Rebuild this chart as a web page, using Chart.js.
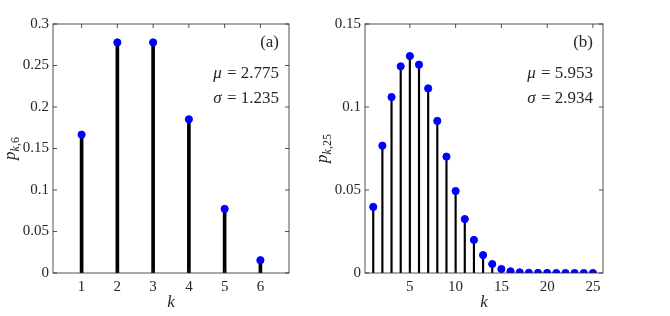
<!DOCTYPE html>
<html>
<head>
<meta charset="utf-8">
<script src="https://cdn.jsdelivr.net/npm/chart.js@4"></script>
<style>
    body { margin: 0; background: #fff; }
    #wrap { position: relative; width: 670px; height: 316px; }
    #left { position: absolute; left: 0; top: 0; width: 300px; height: 316px; }
    #right { position: absolute; left: 300px; top: 0; width: 370px; height: 316px; }
</style>
</head>
<body>
<div id="wrap">
    <div id="left"><canvas id="chartA"></canvas></div>
    <div id="right"><canvas id="chartB"></canvas></div>
</div>
<script>
// panel (a): n = 6
const kA = [1, 2, 3, 4, 5, 6];
const pA = [0.1667, 0.2778, 0.2778, 0.1852, 0.0772, 0.0154];
const xTicksA = [1, 2, 3, 4, 5, 6];
const yTicksA = [0, 0.05, 0.1, 0.15, 0.2, 0.25, 0.3];

// panel (b): n = 25
const kB = [1, 2, 3, 4, 5, 6, 7, 8, 9, 10, 11, 12, 13, 14, 15, 16, 17, 18, 19, 20, 21, 22, 23, 24, 25];
const pB = [0.0398, 0.0767, 0.1060, 0.1245, 0.1307, 0.1255, 0.1112, 0.0916, 0.0701, 0.0494,
            0.0325, 0.0199, 0.0108, 0.0054, 0.0024, 0.0010, 0.0004, 0.00015, 0.00005, 0.00002,
            0, 0, 0, 0, 0];
const xTicksB = [5, 10, 15, 20, 25];
const yTicksB = [0, 0.05, 0.1, 0.15];

const SERIF = "'Liberation Serif', 'DejaVu Serif', serif";

// box with inward ticks, axis label and annotations
const framePlugin = {
    id: "frame",
    afterDraw(chart, args, o) {
        const ctx = chart.ctx;
        const a = chart.chartArea;
        const xs = chart.scales.x, ys = chart.scales.y;
        ctx.save();
        ctx.strokeStyle = "#262626";
        ctx.lineWidth = 0.8;
        ctx.strokeRect(a.left, a.top, a.right - a.left, a.bottom - a.top);
        ctx.beginPath();
        xs.ticks.forEach(t => {
            const px = xs.getPixelForValue(t.value);
            ctx.moveTo(px, a.bottom); ctx.lineTo(px, a.bottom - 4);
            ctx.moveTo(px, a.top); ctx.lineTo(px, a.top + 4);
        });
        ys.ticks.forEach(t => {
            const py = ys.getPixelForValue(t.value);
            ctx.moveTo(a.left, py); ctx.lineTo(a.left + 4, py);
            ctx.moveTo(a.right, py); ctx.lineTo(a.right - 4, py);
        });
        ctx.stroke();

        ctx.fillStyle = "#262626";
        // x label
        ctx.font = "italic 17px " + SERIF;
        ctx.textAlign = "center";
        ctx.textBaseline = "middle";
        ctx.fillText("k", (a.left + a.right) / 2, 303);

        // y label p_{k,n}
        ctx.save();
        ctx.translate(o.yLabelX, (a.top + a.bottom) / 2);
        ctx.rotate(-Math.PI / 2);
        ctx.textBaseline = "alphabetic";
        ctx.textAlign = "left";
        ctx.font = "italic 17px " + SERIF;
        const wP = ctx.measureText("p").width;
        ctx.font = "italic 12px " + SERIF;
        const wK = ctx.measureText("k").width;
        ctx.font = "12px " + SERIF;
        const wN = ctx.measureText("," + o.n).width;
        const total = wP + wK + wN;
        let x0 = -total / 2;
        ctx.font = "italic 17px " + SERIF;
        ctx.fillText("p", x0, 0);
        ctx.font = "italic 12px " + SERIF;
        ctx.fillText("k", x0 + wP, 4);
        ctx.font = "12px " + SERIF;
        ctx.fillText("," + o.n, x0 + wP + wK, 4);
        ctx.restore();

        // annotations
        ctx.textAlign = "right";
        ctx.textBaseline = "middle";
        ctx.font = "17px " + SERIF;
        const rx = a.right - 10;
        ctx.fillText(o.tag, rx, 43);
        [["\u03bc", o.mu, 74], ["\u03c3", o.sigma, 99]].forEach(([sym, val, y]) => {
            ctx.font = "17px " + SERIF;
            const rest = " = " + val;
            const wr = ctx.measureText(rest).width;
            ctx.fillText(rest, rx, y);
            ctx.font = "italic 17px " + SERIF;
            ctx.fillText(sym, rx - wr - 1, y);
        });
        ctx.restore();
    }
};

function makeChart(id, ks, ps, cfg) {
    const stems = ks.map((k, i) => ({ x: k, y: ps[i] }));
    return new Chart(document.getElementById(id), {
        type: "bar",
        data: {
            datasets: [
                {
                    type: "scatter",
                    data: stems,
                    backgroundColor: "#0000ff",
                    borderColor: "#0000ff",
                    pointRadius: 3.6,
                    pointHoverRadius: 3.6,
                    order: 0
                },
                {
                    type: "bar",
                    data: stems,
                    backgroundColor: "#000",
                    barThickness: cfg.stemWidth,
                    order: 1
                }
            ]
        },
        options: {
            responsive: true,
            maintainAspectRatio: false,
            animation: false,
            events: [],
            layout: { padding: { top: 24, right: cfg.padRight, left: 0, bottom: 0 } },
            plugins: {
                legend: { display: false },
                tooltip: { enabled: false },
                frame: cfg.frame
            },
            scales: {
                x: {
                    type: "linear",
                    offset: false,
                    min: cfg.xMin,
                    max: cfg.xMax,
                    grid: { display: false, drawTicks: false },
                    border: { display: false },
                    afterBuildTicks: s => { s.ticks = cfg.xTicks.map(v => ({ value: v })); },
                    afterFit: s => { s.height = 43; },
                    ticks: {
                        font: { family: SERIF, size: 15 },
                        color: "#262626",
                        padding: 5,
                        maxRotation: 0,
                        callback: v => String(v)
                    }
                },
                y: {
                    min: 0,
                    max: cfg.yMax,
                    grid: { display: false, drawTicks: false },
                    border: { display: false },
                    afterBuildTicks: s => { s.ticks = cfg.yTicks.map(v => ({ value: v })); },
                    afterFit: s => { s.width = cfg.yAxisWidth; },
                    ticks: {
                        font: { family: SERIF, size: 15 },
                        color: "#262626",
                        padding: 4,
                        callback: v => String(+v.toFixed(2))
                    }
                }
            }
        },
        plugins: [framePlugin]
    });
}

makeChart("chartA", kA, pA, {
    stemWidth: 3,
    padRight: 11,
    yAxisWidth: 53,
    xMin: 0.2, xMax: 6.8, yMax: 0.3,
    xTicks: xTicksA, yTicks: yTicksA,
    frame: { yLabelX: 15, n: "6", tag: "(a)", mu: "2.775", sigma: "1.235" }
});

makeChart("chartB", kB, pB, {
    stemWidth: 1.5,
    padRight: 67,
    yAxisWidth: 65,
    xMin: 0.1, xMax: 26.1, yMax: 0.15,
    xTicks: xTicksB, yTicks: yTicksB,
    frame: { yLabelX: 27, n: "25", tag: "(b)", mu: "5.953", sigma: "2.934" }
});
</script>
</body>
</html>
